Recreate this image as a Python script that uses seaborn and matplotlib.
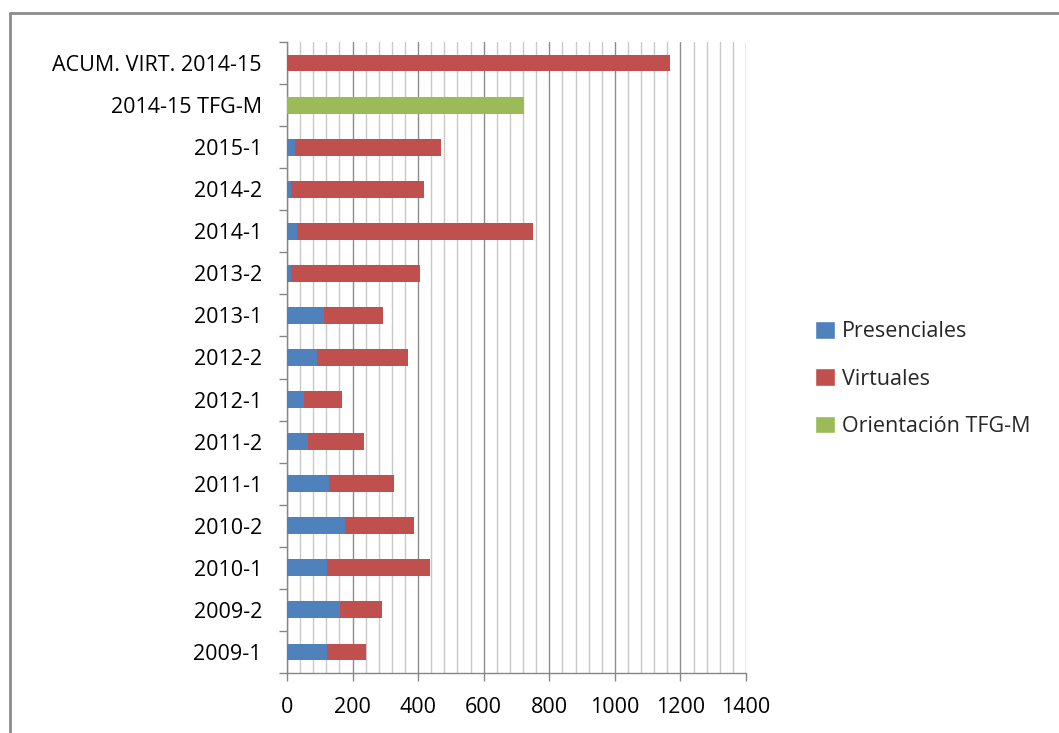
import matplotlib
matplotlib.use("Agg")
import matplotlib.pyplot as plt
from matplotlib.lines import Line2D
from matplotlib.patches import Patch
from matplotlib.ticker import MultipleLocator, FixedLocator
import seaborn as sns
import pandas as pd

categories = ["ACUM. VIRT. 2014-15", "2014-15 TFG-M", "2015-1", "2014-2", "2014-1",
              "2013-2", "2013-1", "2012-2", "2012-1", "2011-2", "2011-1",
              "2010-2", "2010-1", "2009-2", "2009-1"]
presenciales = [0, 0, 25, 13, 32, 13, 112, 91, 53, 64, 127, 178, 123, 161, 123]
virtuales = [1168, 0, 445, 405, 719, 394, 182, 277, 116, 171, 199, 210, 312, 129, 117]
orientacion = [0, 723, 0, 0, 0, 0, 0, 0, 0, 0, 0, 0, 0, 0, 0]
x_ticks = [0, 200, 400, 600, 800, 1000, 1200, 1400]

C_BLUE = "#4F81BD"
C_RED = "#C0504D"
C_GREEN = "#9BBB59"
FS = 15.5

sns.set_theme(style="white")
plt.rcParams["font.family"] = ["Open Sans", "DejaVu Sans"]

df = pd.DataFrame({"cat": categories, "pres": presenciales, "virt": virtuales, "orient": orientacion})
df["total"] = df["pres"] + df["virt"]

fig = plt.figure(figsize=(10.59, 7.33), dpi=100)
ax = fig.add_axes([287 / 1059, 1 - 673 / 733, (746 - 287) / 1059, (673 - 42) / 733])

w = 0.4
common = dict(y="cat", order=categories, width=w, saturation=1, orient="h", ax=ax,
              linewidth=0, edgecolor="none")
sns.barplot(data=df, x="total", color=C_RED, zorder=3, **common)
sns.barplot(data=df, x="pres", color=C_BLUE, zorder=4, **common)
sns.barplot(data=df, x="orient", color=C_GREEN, zorder=4, **common)

ax.set_xlim(0, 1400)
ax.set_ylim(len(categories) - 0.5, -0.5)
ax.set_xlabel("")
ax.set_ylabel("")

ax.xaxis.set_major_locator(FixedLocator(x_ticks))
ax.xaxis.set_minor_locator(MultipleLocator(40))
ax.grid(False)
ax.grid(True, axis="x", which="minor", color="#C8C8C8", linewidth=1.0, zorder=0)
ax.grid(True, axis="x", which="major", color="#8C8C8C", linewidth=1.0, zorder=1)
ax.set_axisbelow(True)

ax.yaxis.set_minor_locator(FixedLocator([i - 0.5 for i in range(len(categories) + 1)]))
ax.tick_params(axis="y", which="major", length=0, pad=18, labelsize=FS, labelcolor="#000000")
ax.tick_params(axis="y", which="minor", length=6, width=1, color="#868686", left=True)
ax.tick_params(axis="x", which="major", length=6, width=1, color="#868686", bottom=True,
               labelsize=FS, labelcolor="#000000", pad=11)
ax.tick_params(axis="x", which="minor", length=0)

for s in ["top", "right"]:
    ax.spines[s].set_visible(False)
for s in ["left", "bottom"]:
    ax.spines[s].set_color("#868686")
    ax.spines[s].set_linewidth(1.0)

handles = [Patch(facecolor=C_BLUE, label="Presenciales"),
           Patch(facecolor=C_RED, label="Virtuales"),
           Patch(facecolor=C_GREEN, label="Orientación TFG-M")]
fig.legend(handles=handles, loc="center left", bbox_to_anchor=(804 / 1059, 1 - 379 / 733),
           frameon=False, fontsize=FS, handlelength=0.95, handleheight=0.9,
           handletextpad=0.3, labelspacing=1.2, borderpad=0)

# outer chart border (partially visible in reference)
fig.add_artist(Line2D([10 / 1059, 1.0], [1 - 13 / 733, 1 - 13 / 733], transform=fig.transFigure,
                      color="#8C8C8C", linewidth=2))
fig.add_artist(Line2D([10 / 1059, 10 / 1059], [0.0, 1 - 13 / 733], transform=fig.transFigure,
                      color="#8C8C8C", linewidth=2))

fig.savefig("out.png", dpi=100, facecolor="white")
